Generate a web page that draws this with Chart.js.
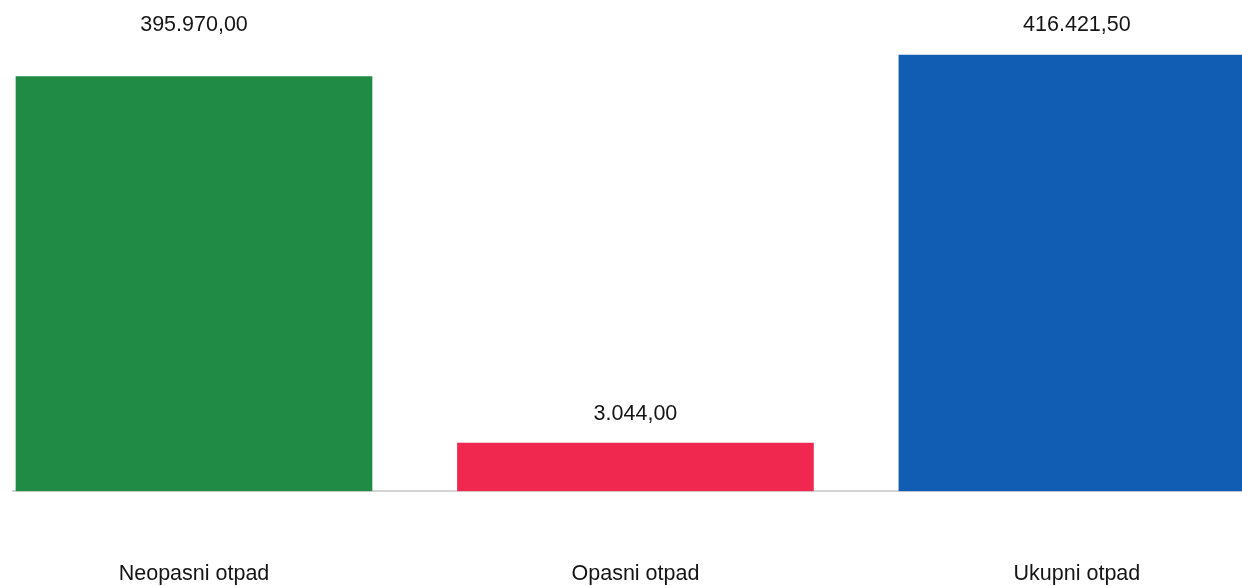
<!DOCTYPE html>
<html>
<head>
<meta charset="utf-8">
<script src="https://cdn.jsdelivr.net/npm/chart.js@4/dist/chart.umd.min.js"></script>
<style>
  html, body { margin: 0; padding: 0; background: #ffffff; }
  #wrap { width: 1242px; height: 586px; position: relative; }
</style>
</head>
<body>
<div id="wrap"><canvas id="c" width="1242" height="586"></canvas></div>
<script>
const categories = ["Neopasni otpad", "Opasni otpad", "Ukupni otpad"];
const values = [395970.00, 3044.00, 416421.50];
const valueLabels = ["395.970,00", "3.044,00", "416.421,50"];
const barColors = ["#1f8b45", "#f0284f", "#115db4"];

const FONT = "'Liberation Sans', Arial, sans-serif";

const valueLabelPlugin = {
  id: "valueLabels",
  afterDatasetsDraw(chart) {
    const ctx = chart.ctx;
    const meta = chart.getDatasetMeta(0);
    ctx.save();
    ctx.font = "21.5px " + FONT;
    ctx.fillStyle = "#151515";
    ctx.textAlign = "center";
    ctx.textBaseline = "middle";
    meta.data.forEach((bar, i) => {
      let y = bar.y - 29;
      if (y < 100) y = 25;
      ctx.fillText(valueLabels[i], bar.x, y);
    });
    ctx.restore();
  }
};

new Chart(document.getElementById("c"), {
  type: "bar",
  data: {
    datasets: [{
      data: values.map((v, i) => ({ x: i, y: v })),
      backgroundColor: barColors,
      borderWidth: 0,
      barThickness: 356,
      minBarLength: 48
    }]
  },
  options: {
    responsive: false,
    animation: false,
    layout: { padding: { left: 13, right: 0, top: 0, bottom: -71 } },
    plugins: { legend: { display: false }, tooltip: { enabled: false } },
    scales: {
      x: {
        type: "linear",
        offset: false,
        min: -0.41,
        max: 2.374,
        afterBuildTicks: axis => { axis.ticks = categories.map((c, i) => ({ value: i })); },
        grid: { display: false, drawTicks: false, offset: false },
        border: { display: true, color: "#d4d4d4", width: 2 },
        ticks: {
          padding: 70,
          autoSkip: false,
          maxRotation: 0,
          color: "#151515",
          font: { family: FONT, size: 21.5, lineHeight: 1.2 },
          callback: v => categories[v]
        }
      },
      y: {
        display: false,
        min: 0,
        max: 469000
      }
    }
  },
  plugins: [valueLabelPlugin]
});
</script>
</body>
</html>
